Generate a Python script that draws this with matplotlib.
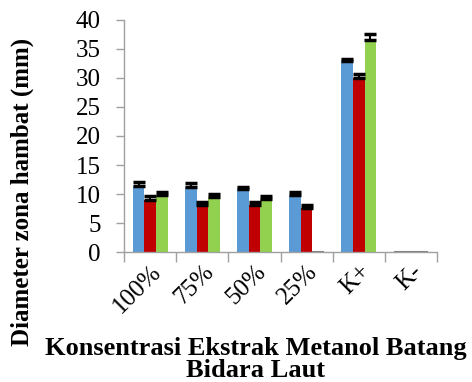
import numpy as np
import matplotlib.pyplot as plt

# data
categories = ["100%", "75%", "50%", "25%", "K+", "K-"]
rep1 = [11.4, 11.3, 10.8, 9.8, 32.9, 0.0]
rep2 = [8.9, 8.1, 8.1, 7.6, 30.0, 0.0]
rep3 = [9.8, 9.45, 9.1, 0.0, 36.6, 0.0]
err1 = [0.6, 0.6, 0.5, 0.5, 0.4, 0.0]
err2 = [0.7, 0.55, 0.55, 0.6, 0.7, 0.0]
err3 = [0.5, 0.6, 0.5, 0.0, 0.9, 0.0]

plt.rcParams['font.family'] = ['Liberation Serif', 'DejaVu Serif']

fig = plt.figure(figsize=(4.72, 3.82), dpi=100)
ax = fig.add_axes([0.263, 0.340, 0.663, 0.608])

x = np.arange(len(categories))
w = 0.223
colors = ["#5B9BD5", "#C00000", "#92D050"]
for i, (vals, errs) in enumerate([(rep1, err1), (rep2, err2), (rep3, err3)]):
    pos = x + (i - 1) * w
    vals = np.array(vals)
    errs = np.array(errs)
    ax.bar(pos, vals, w, color=colors[i], edgecolor="#7f7f7f",
           linewidth=[1.5 if v == 0 else 0 for v in vals], zorder=2)
    m = errs > 0
    ax.errorbar(pos[m], vals[m], yerr=[np.zeros(m.sum()), errs[m]], fmt="none",
                ecolor="black", elinewidth=1.5, capsize=4.5, capthick=2.5, zorder=3)

ax.set_xlim(-0.5, len(categories) - 0.5)
ax.set_ylim(0, 40)
ax.set_yticks(range(0, 41, 5))
ax.set_xticks(x)
ax.set_xticklabels(categories, rotation=45, ha="right", rotation_mode="anchor")
ax.set_xticks(np.arange(-0.5, len(categories), 1), minor=True)
ax.tick_params(axis="x", which="major", length=0, labelsize=18, pad=6)
ax.tick_params(axis="x", which="minor", length=7, width=1, color="#a0a0a0")
ax.tick_params(axis="y", length=6, width=1, color="#a0a0a0", labelsize=18, pad=11)

for s in ["top", "right"]:
    ax.spines[s].set_visible(False)
for s in ["left", "bottom"]:
    ax.spines[s].set_color("#a0a0a0")
    ax.spines[s].set_linewidth(1)

fig.text(0.047, 0.497, "Diameter zona hambat (mm)", rotation=90, ha="center", va="center",
         fontsize=18, fontweight="bold")
fig.text(0.542, 0.0, "Konsentrasi Ekstrak Metanol Batang\nBidara Laut",
         ha="center", va="bottom", fontsize=19, fontweight="bold", linespacing=0.95)

fig.savefig("out.png", dpi=100)
